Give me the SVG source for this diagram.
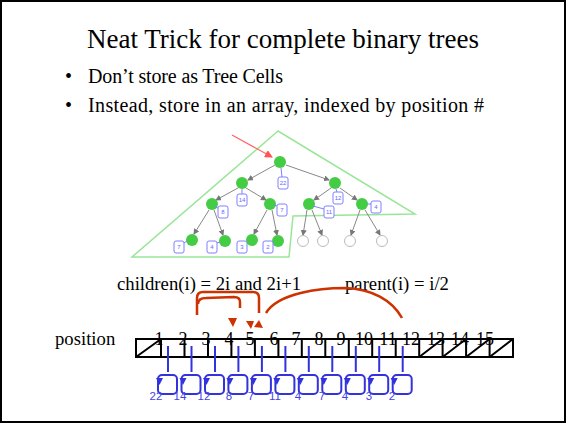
<svg xmlns="http://www.w3.org/2000/svg" width="566" height="423" viewBox="0 0 566 423">
<defs>
<style>
.t{font-family:"Liberation Serif","Times New Roman",serif;fill:#000}
.edge{stroke:#888;stroke-width:1;fill:none;marker-end:url(#ga)}
.g{fill:#44cc44}
.w{fill:#fff;stroke:#bbb;stroke-width:1}
.lb{fill:#fff;stroke:#8080ff;stroke-width:1}
.lt{font-family:"Liberation Sans",Arial,sans-serif;font-size:6px;fill:#6666ff;text-anchor:middle}
.bl{stroke:#3333dd;stroke-width:2;fill:none}
.bx{stroke:#3333dd;stroke-width:2;fill:none}
.red{stroke:#cc3300;stroke-width:2.5;fill:none}
.num{font-family:"Liberation Serif","Times New Roman",serif;font-size:18px;text-anchor:middle}
.bv{font-family:"Liberation Sans",Arial,sans-serif;font-size:11.5px;fill:#4444dd;text-anchor:middle}
</style>
<marker id="ga" markerWidth="6" markerHeight="6" refX="5" refY="3" orient="auto" markerUnits="userSpaceOnUse">
<path d="M0,0 L6,3 L0,6 z" fill="#777"/>
</marker>
<marker id="ra" markerWidth="8" markerHeight="8" refX="7" refY="4" orient="auto" markerUnits="userSpaceOnUse">
<path d="M0,0 L8,4 L0,8 z" fill="#ff5555"/>
</marker>
</defs>
<rect x="1" y="1" width="564" height="421" fill="#fff" stroke="#000" stroke-width="2"/>
<g id="title"><text class="t" x="283" y="48" font-size="27" text-anchor="middle">Neat Trick for complete binary trees</text></g>
<g id="bullets">
<text class="t" x="65" y="83" font-size="20">•</text>
<text class="t" x="88" y="83" font-size="20" textLength="195">Don’t store as Tree Cells</text>
<text class="t" x="65" y="112" font-size="20">•</text>
<text class="t" x="88" y="112" font-size="20" textLength="396">Instead, store in an array, indexed by position #</text>
</g>
<g id="tree-outline"><polygon points="278,131 132,257 289,257 293,216 415,214" fill="none" stroke="#99e699" stroke-width="1.5"/></g>
<g id="connectors">
<line x1="232" y1="135" x2="272" y2="157" stroke="#ff6666" stroke-width="1.2" marker-end="url(#ra)"/>
<line class="edge" x1="275" y1="165" x2="248" y2="180"/>
<line class="edge" x1="286" y1="165" x2="329" y2="180"/>
<line class="edge" x1="238" y1="188" x2="216" y2="200"/>
<line class="edge" x1="246" y1="188" x2="266" y2="200"/>
<line class="edge" x1="331" y1="188" x2="314" y2="200"/>
<line class="edge" x1="340" y1="188" x2="357" y2="200"/>
<line class="edge" x1="209" y1="210" x2="194" y2="234"/>
<line class="edge" x1="214" y1="210" x2="223" y2="235"/>
<line class="edge" x1="267" y1="210" x2="254" y2="234"/>
<line class="edge" x1="272" y1="210" x2="277" y2="235"/>
<line class="edge" x1="307" y1="210" x2="303" y2="235"/>
<line class="edge" x1="312" y1="210" x2="322" y2="235"/>
<line class="edge" x1="360" y1="210" x2="351" y2="235"/>
<line class="edge" x1="365" y1="210" x2="380" y2="235"/>
</g>
<g id="tree-nodes">
<circle class="g" cx="280" cy="162" r="6"/>
<circle class="g" cx="242" cy="183" r="6"/>
<circle class="g" cx="335" cy="183" r="6"/>
<circle class="g" cx="212" cy="204" r="6"/>
<circle class="g" cx="270" cy="204" r="6"/>
<circle class="g" cx="309" cy="204" r="6"/>
<circle class="g" cx="362" cy="204" r="6"/>
<circle class="g" cx="192" cy="240" r="6"/>
<circle class="g" cx="225" cy="241" r="6"/>
<circle class="g" cx="252" cy="240" r="6"/>
<circle class="g" cx="278" cy="241" r="6"/>
<circle class="w" cx="303" cy="241" r="5.5"/>
<circle class="w" cx="323" cy="241" r="5.5"/>
<circle class="w" cx="350" cy="241" r="5.5"/>
<circle class="w" cx="382" cy="241" r="5.5"/>
</g>
<g id="tree-labels">
<g><line x1="282" y1="177" x2="281" y2="168" stroke="#8080ff"/><rect class="lb" x="278" y="177" width="10" height="12" rx="2"/><text class="lt" x="283" y="185">22</text></g>
<g><line x1="242" y1="194" x2="242" y2="189" stroke="#8080ff"/><rect class="lb" x="237" y="194" width="10" height="12" rx="2"/><text class="lt" x="242" y="202">14</text></g>
<g><line x1="337" y1="192" x2="336" y2="189" stroke="#8080ff"/><rect class="lb" x="333" y="192" width="10" height="12" rx="2"/><text class="lt" x="338" y="200">12</text></g>
<g><line x1="218" y1="208" x2="215" y2="207" stroke="#8080ff"/><rect class="lb" x="218" y="206" width="10" height="12" rx="2"/><text class="lt" x="223" y="214">8</text></g>
<g><line x1="277" y1="206" x2="274" y2="205" stroke="#8080ff"/><rect class="lb" x="277" y="204" width="10" height="12" rx="2"/><text class="lt" x="282" y="212">7</text></g>
<g><line x1="324" y1="209" x2="313" y2="206" stroke="#8080ff"/><rect class="lb" x="324" y="206" width="10" height="12" rx="2"/><text class="lt" x="329" y="214">11</text></g>
<g><line x1="371" y1="204" x2="367" y2="204" stroke="#8080ff"/><rect class="lb" x="371" y="201" width="10" height="12" rx="2"/><text class="lt" x="376" y="209">4</text></g>
<g><line x1="184" y1="243" x2="187" y2="241" stroke="#8080ff"/><rect class="lb" x="174" y="241" width="10" height="12" rx="2"/><text class="lt" x="179" y="249">7</text></g>
<g><line x1="217" y1="243" x2="220" y2="242" stroke="#8080ff"/><rect class="lb" x="207" y="241" width="10" height="12" rx="2"/><text class="lt" x="212" y="249">4</text></g>
<g><rect class="lb" x="237" y="241" width="10" height="12" rx="2"/><text class="lt" x="242" y="249">3</text></g>
<g><rect class="lb" x="263" y="241" width="10" height="12" rx="2"/><text class="lt" x="268" y="249">2</text></g>
</g>
<g id="formulas">
<text class="t" x="117" y="290" font-size="18.7">children(i) = 2i and 2i+1</text>
<text class="t" x="345" y="290" font-size="18.7">parent(i) = i/2</text>
</g>
<g id="red-arrows">
<path class="red" d="M197,315 L197,298 Q197,292 203,292 L253,292 Q259,292 259,298 L259,313"/>
<path class="red" d="M198,304 Q198,298 206,298 L234,297 Q240,297 240,302 L240,308"/>
<path class="red" d="M266,313 C278,293 320,288 345,288 C372,289 392,300 402,318"/>
<polygon points="228,318 237,318 233,327" fill="#cc3300"/>
<polygon points="246,321 254,321 251,329" fill="#cc3300"/>
<polygon points="254,327 259,320 263,328" fill="#cc3300"/>
</g>
<g id="position-label"><text class="t" x="55" y="345" font-size="18.7">position</text></g>
<g id="array">
<rect x="136" y="339" width="377" height="18" fill="none" stroke="#000" stroke-width="2"/>
<path d="M161,339V357 M184.5,339V357 M208,339V357 M231.4,339V357 M254.9,339V357 M278.4,339V357 M301.8,339V357 M325.3,339V357 M348.8,339V357 M372.2,339V357 M395.7,339V357 M419.2,339V357 M442.6,339V357 M466.1,339V357 M489.6,339V357" stroke="#000" stroke-width="2" fill="none"/>
<path d="M136,357L161,339 M419.2,357L442.6,339 M442.6,357L466.1,339 M466.1,357L489.6,339 M489.6,357L513,339" stroke="#000" stroke-width="2" fill="none"/>
<text class="num" x="159" y="345">1</text>
<text class="num" x="183" y="345">2</text>
<text class="num" x="206" y="345">3</text>
<text class="num" x="229" y="345">4</text>
<text class="num" x="250" y="345">5</text>
<text class="num" x="274" y="345">6</text>
<text class="num" x="296" y="345">7</text>
<text class="num" x="319" y="345">8</text>
<text class="num" x="341" y="345">9</text>
<text class="num" x="364" y="345">10</text>
<text class="num" x="388" y="345">11</text>
<text class="num" x="411" y="345">12</text>
<text class="num" x="436" y="345">13</text>
<text class="num" x="460" y="345">14</text>
<text class="num" x="485" y="345">15</text>
</g>
<g id="pointers">
<path class="bl" d="M168,346V372 M191.5,346V372 M215,346V372 M238.4,346V372 M261.9,346V372 M285.4,346V372 M308.8,346V372 M332.3,346V372 M355.8,346V372 M379.2,346V372 M402.7,346V372"/>
</g>
<g id="value-boxes">
<g fill="#3333dd">
<polygon points="156,378 163,378 159.5,385"/>
<polygon points="179.5,378 186.5,378 183,385"/>
<polygon points="203,378 210,378 206.5,385"/>
<polygon points="226.4,378 233.4,378 229.9,385"/>
<polygon points="249.9,378 256.9,378 253.4,385"/>
<polygon points="273.4,378 280.4,378 276.9,385"/>
<polygon points="296.8,378 303.8,378 300.3,385"/>
<polygon points="320.3,378 327.3,378 323.8,385"/>
<polygon points="343.8,378 350.8,378 347.3,385"/>
<polygon points="367.2,378 374.2,378 370.7,385"/>
<polygon points="390.7,378 397.7,378 394.2,385"/>
</g>
<rect class="bx" x="158" y="375" width="19" height="19" rx="4"/>
<rect class="bx" x="181.5" y="375" width="19" height="19" rx="4"/>
<rect class="bx" x="205" y="375" width="19" height="19" rx="4"/>
<rect class="bx" x="228.4" y="375" width="19" height="19" rx="4"/>
<rect class="bx" x="251.9" y="375" width="19" height="19" rx="4"/>
<rect class="bx" x="275.4" y="375" width="19" height="19" rx="4"/>
<rect class="bx" x="298.8" y="375" width="19" height="19" rx="4"/>
<rect class="bx" x="322.3" y="375" width="19" height="19" rx="4"/>
<rect class="bx" x="345.8" y="375" width="19" height="19" rx="4"/>
<rect class="bx" x="369.2" y="375" width="19" height="19" rx="4"/>
<rect class="bx" x="392.7" y="375" width="19" height="19" rx="4"/>
<text class="bv" x="156" y="400">22</text>
<text class="bv" x="180" y="400">14</text>
<text class="bv" x="204" y="400">12</text>
<text class="bv" x="229" y="400">8</text>
<text class="bv" x="251" y="400">7</text>
<text class="bv" x="275" y="400">11</text>
<text class="bv" x="298" y="400">4</text>
<text class="bv" x="322" y="400">7</text>
<text class="bv" x="345" y="400">4</text>
<text class="bv" x="369" y="400">3</text>
<text class="bv" x="392" y="400">2</text>
</g>
</svg>
